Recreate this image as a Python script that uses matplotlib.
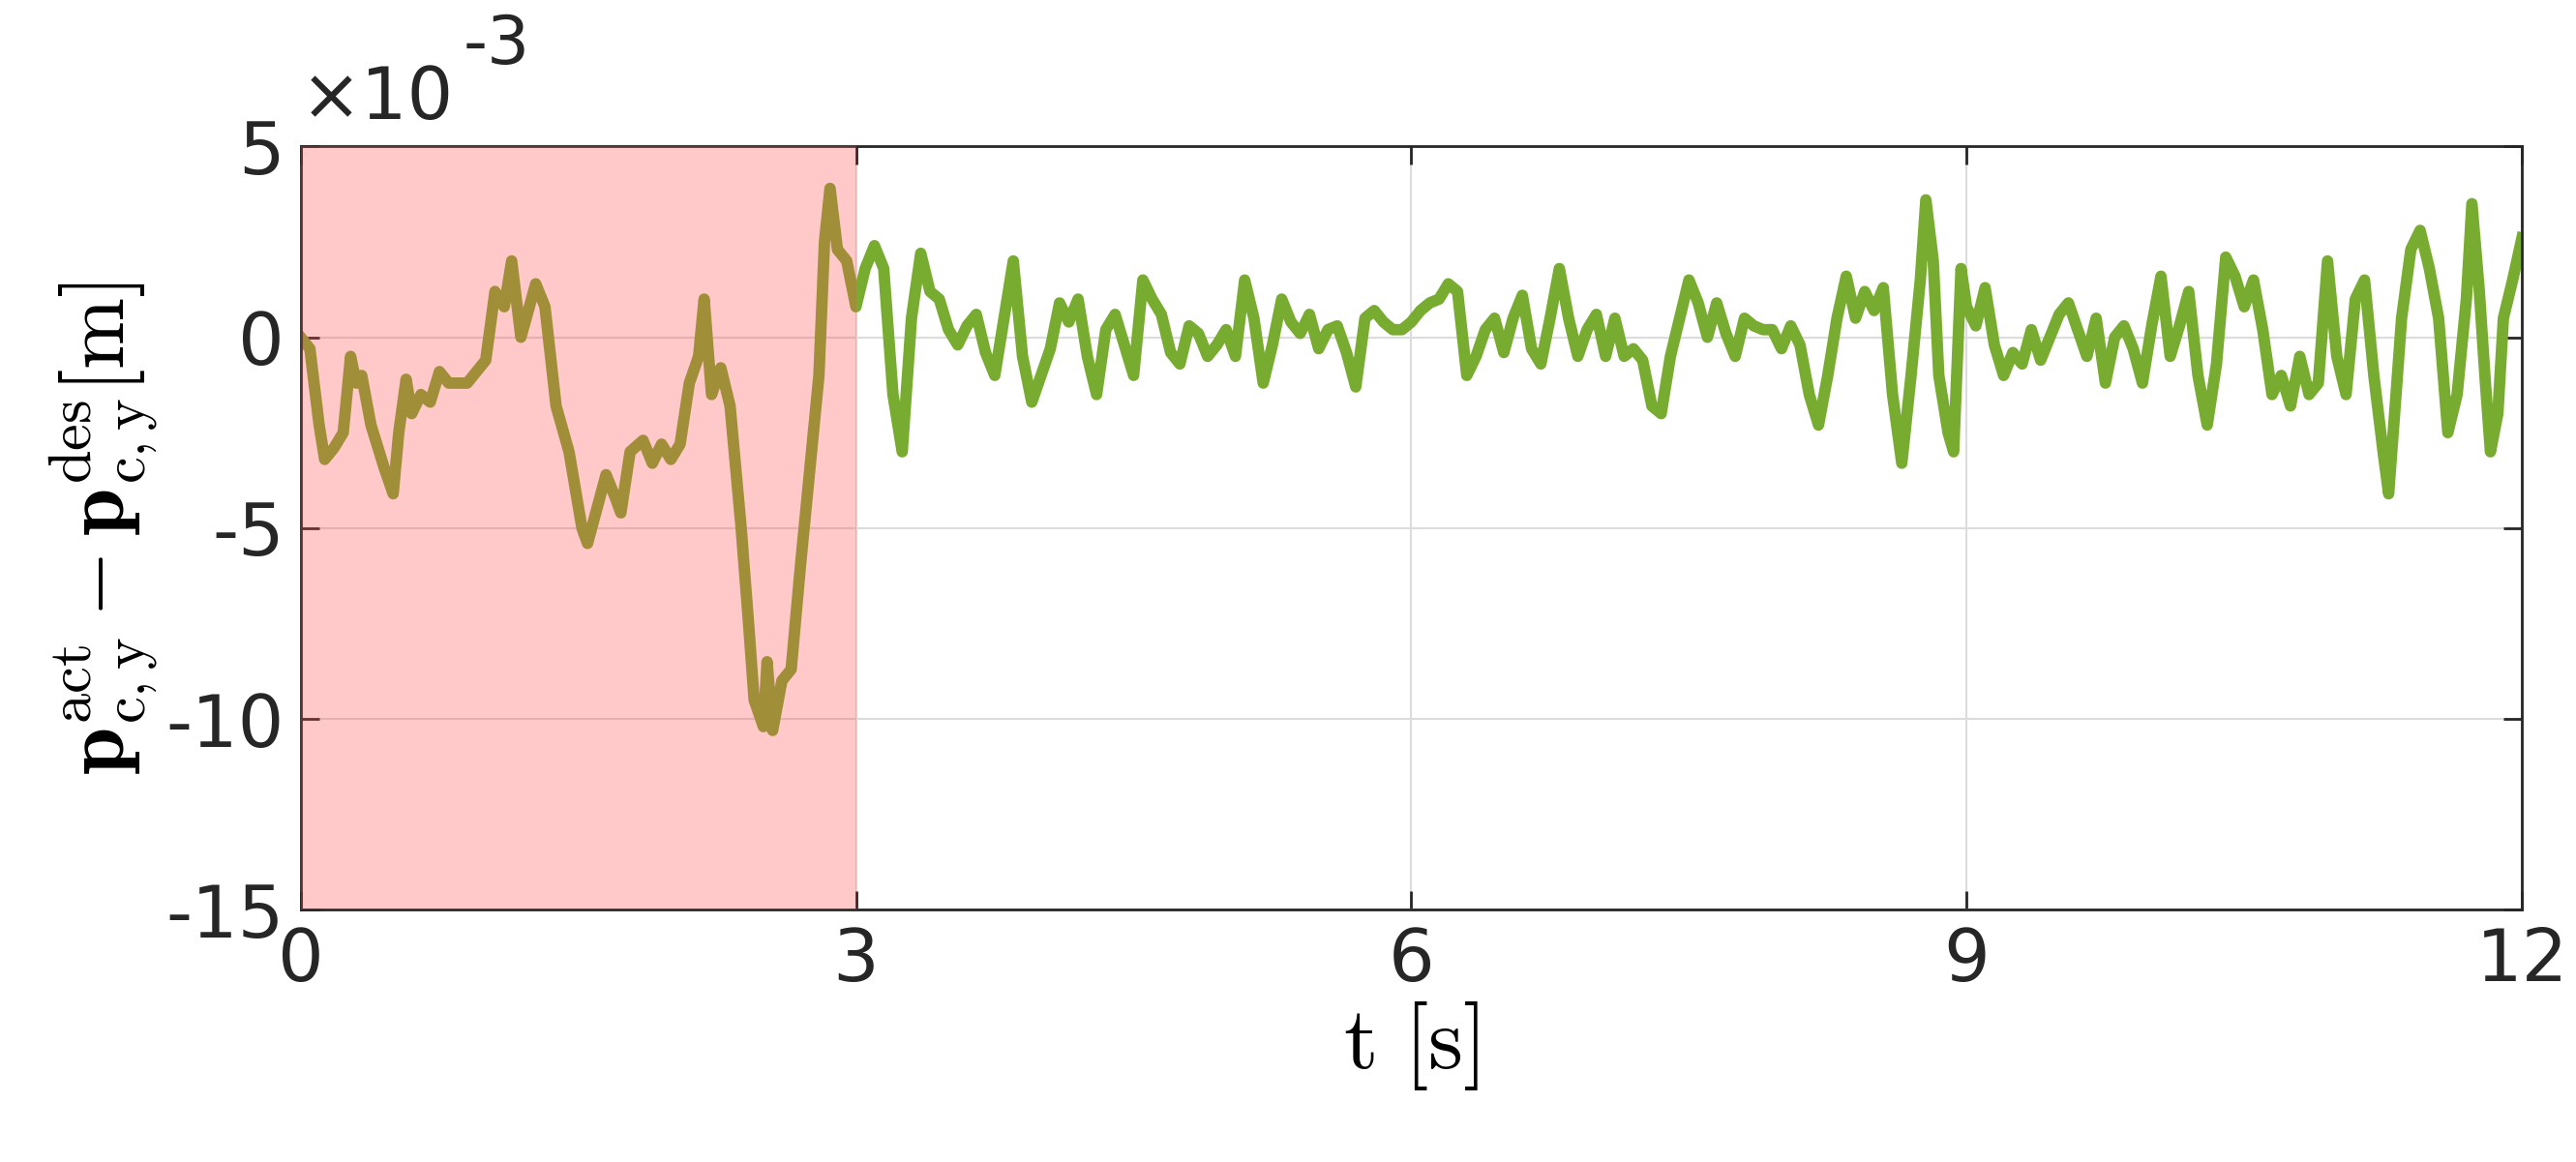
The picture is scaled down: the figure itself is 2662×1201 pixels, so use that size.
import numpy as np
import matplotlib
matplotlib.use("Agg")
import matplotlib.pyplot as plt

# traced signal, t in s, error in 1e-3 m
t = [0, .05, .1, .13, .18, .23, .27, .3, .33, .38, .45, .5, .53, .57, .6, .65, .7, .75, .8, .9,
     .95, 1.0, 1.05, 1.1, 1.14, 1.19, 1.27, 1.32, 1.38, 1.45, 1.52, 1.55, 1.6, 1.65, 1.7, 1.73,
     1.78, 1.85, 1.9, 1.95, 2.0, 2.05, 2.1, 2.15, 2.18, 2.22, 2.27, 2.32, 2.38, 2.42, 2.45, 2.5,
     2.52, 2.55, 2.6, 2.65, 2.7, 2.75, 2.8, 2.83, 2.86, 2.9, 2.95,
     3.0, 3.05, 3.1, 3.15, 3.2, 3.25, 3.3, 3.35, 3.4, 3.45, 3.5, 3.55, 3.6, 3.65, 3.7, 3.75, 3.8,
     3.85, 3.9, 3.95, 4.0, 4.05, 4.1, 4.15, 4.2, 4.25, 4.3, 4.35, 4.4, 4.45, 4.5, 4.55, 4.6, 4.65,
     4.7, 4.75, 4.8, 4.85, 4.9, 4.95, 5.0, 5.05, 5.1, 5.15, 5.2, 5.25, 5.3, 5.35, 5.4, 5.45, 5.5,
     5.55, 5.6, 5.65, 5.7, 5.75, 5.8, 5.85, 5.9, 5.95, 6.0, 6.05, 6.1, 6.15, 6.2, 6.25, 6.3, 6.35,
     6.4, 6.45, 6.5, 6.55, 6.6, 6.65, 6.7, 6.75, 6.8, 6.85, 6.9, 6.95, 7.0, 7.05, 7.1, 7.15, 7.2,
     7.25, 7.3, 7.35, 7.4, 7.45, 7.5, 7.55, 7.6, 7.65, 7.7, 7.75, 7.8, 7.85, 7.9, 7.95, 8.0, 8.05,
     8.1, 8.15, 8.2, 8.25, 8.3, 8.35, 8.4, 8.45, 8.5, 8.55, 8.6, 8.65, 8.7, 8.75, 8.78, 8.82, 8.85,
     8.9, 8.93, 8.97, 9.0, 9.05, 9.1, 9.15, 9.2, 9.25, 9.3, 9.35, 9.4, 9.45, 9.5, 9.55, 9.6, 9.65,
     9.7, 9.75, 9.8, 9.85, 9.9, 9.95, 10.0, 10.05, 10.1, 10.15, 10.2, 10.25, 10.3, 10.35, 10.4,
     10.45, 10.5, 10.55, 10.6, 10.65, 10.7, 10.75, 10.8, 10.85, 10.9, 10.95, 11.0, 11.05, 11.1,
     11.15, 11.2, 11.25, 11.28, 11.32, 11.35, 11.4, 11.45, 11.5, 11.55, 11.6, 11.65, 11.7, 11.73,
     11.77, 11.8, 11.83, 11.87, 11.9, 11.95, 12.0]
err = [0, -0.3, -2.3, -3.2, -2.9, -2.5, -0.5, -1.2, -1.0, -2.3, -3.4, -4.1, -2.5, -1.1, -2.0, -1.5,
       -1.7, -0.9, -1.2, -1.2, -0.9, -0.6, 1.2, 0.8, 2.0, 0.0, 1.4, 0.8, -1.8, -3.0, -5.0, -5.4,
       -4.5, -3.6, -4.2, -4.6, -3.0, -2.7, -3.3, -2.8, -3.2, -2.8, -1.2, -0.5, 1.0, -1.5, -0.8, -1.8,
       -5.0, -7.5, -9.5, -10.2, -8.5, -10.3, -9.0, -8.7, -6.0, -3.5, -1.0, 2.5, 3.9, 2.3, 2.0,
       0.8, 1.8, 2.4, 1.8, -1.5, -3.0, 0.5, 2.2, 1.2, 1.0, 0.2, -0.2, 0.3, 0.6, -0.4, -1.0, 0.5,
       2.0, -0.5, -1.7, -1.0, -0.3, 0.9, 0.4, 1.0, -0.5, -1.5, 0.2, 0.6, -0.2, -1.0, 1.5, 1.0, 0.6,
       -0.4, -0.7, 0.3, 0.1, -0.5, -0.2, 0.2, -0.5, 1.5, 0.5, -1.2, -0.2, 1.0, 0.4, 0.1, 0.6, -0.3,
       0.2, 0.3, -0.4, -1.3, 0.5, 0.7, 0.4, 0.2, 0.2, 0.4, 0.7, 0.9, 1.0, 1.4, 1.2, -1.0, -0.5,
       0.2, 0.5, -0.4, 0.5, 1.1, -0.3, -0.7, 0.5, 1.8, 0.5, -0.5, 0.2, 0.6, -0.5, 0.5, -0.5, -0.3,
       -0.6, -1.8, -2.0, -0.5, 0.5, 1.5, 0.9, 0.0, 0.9, 0.1, -0.5, 0.5, 0.3, 0.2, 0.2, -0.3, 0.3,
       -0.2, -1.5, -2.3, -1.0, 0.5, 1.6, 0.5, 1.2, 0.7, 1.3, -1.5, -3.3, -1.0, 1.5, 3.6, 2.0, -1.0,
       -2.5, -3.0, 1.8, 0.8, 0.3, 1.3, -0.2, -1.0, -0.4, -0.7, 0.2, -0.6, 0.0, 0.6, 0.9, 0.2, -0.5,
       0.5, -1.2, 0.0, 0.3, -0.3, -1.2, 0.3, 1.6, -0.5, 0.3, 1.2, -1.0, -2.3, -0.7, 2.1,
       1.6, 0.8, 1.5, 0.2, -1.5, -1.0, -1.8, -0.5, -1.5, -1.2, 2.0, -0.5, -1.5, 1.0,
       1.5, -1.0, -3.0, -4.1, -1.5, 0.5, 2.3, 2.8, 1.8, 0.5, -2.5, -1.5, 1.0, 3.5,
       1.2, -1.0, -3.0, -2.0, 0.5, 1.5, 2.6]

plt.rcParams['mathtext.fontset'] = 'cm'
plt.rcParams['font.family'] = 'DejaVu Sans'

fig = plt.figure(figsize=(26.62, 12.01), dpi=100)
ax = fig.add_axes([0.1167, 0.217, 0.8623, 0.657])

ax.plot(t, np.array(err) * 1e-3, color='#77AC30', lw=8.5, zorder=2,
        solid_joinstyle='round')
ax.axvspan(0, 3, color=(1.0, 0.294, 0.306), alpha=0.3, lw=0, zorder=3)

ax.set_xlim(0, 12)
ax.set_ylim(-15e-3, 5e-3)
ax.set_xticks([0, 3, 6, 9, 12])
ax.set_yticks([-15e-3, -10e-3, -5e-3, 0, 5e-3])
ax.set_yticklabels(['-15', '-10', '-5', '0', '5'])
ax.grid(True, color='#dcdcdc', lw=1.5)
ax.tick_params(direction='in', length=14, width=2, labelsize=54,
               top=True, right=True, colors='#262626', pad=12)
for s in ax.spines.values():
    s.set_linewidth(2)
    s.set_color('#262626')

ax.text(0.0, 1.015, u'\u00d710', transform=ax.transAxes,
        fontsize=54, color='#262626', va='bottom', ha='left')
ax.text(0.073, 1.09, '-3', transform=ax.transAxes,
        fontsize=50, color='#262626', va='bottom', ha='left')
ax.set_xlabel(r'$\mathrm{t\ [s]}$', fontsize=66, labelpad=2)
ax.set_ylabel(r'$\mathbf{p}^{\mathrm{act}}_{\mathrm{c,y}}-\mathbf{p}^{\mathrm{des}}_{\mathrm{c,y}}[\mathrm{m}]$',
              fontsize=64, labelpad=4)

fig.savefig('out.png', dpi=100)
